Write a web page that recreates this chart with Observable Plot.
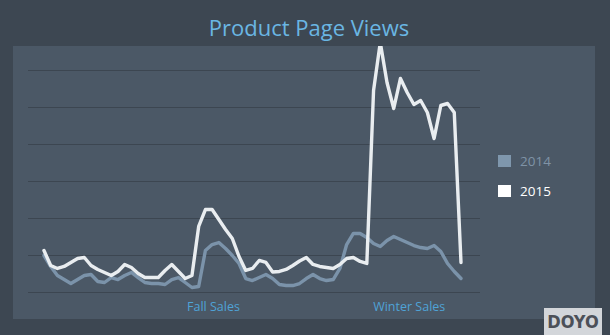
<!DOCTYPE html>
<html>
<head>
<meta charset="utf-8">
<script src="https://cdn.jsdelivr.net/npm/d3@7"></script>
<script src="https://cdn.jsdelivr.net/npm/@observablehq/plot@0.6"></script>
<style>
html,body{margin:0;padding:0;background:#3d4752;width:610px;height:335px;overflow:hidden;font-family:"Open Sans",sans-serif}
#title{position:absolute;left:0;width:618px;top:12px;text-align:center;color:#6ab6e3;font-size:22px;line-height:30px}
#panel{position:absolute;left:13px;top:46px;width:582px;height:273px;background:#4b5866}
#panel svg{position:absolute;left:0;top:0}
#legend{position:absolute;left:498px;top:146px}
.item{display:flex;align-items:center;height:30px;font-size:13.5px}
.sw{width:13px;height:12px;margin-right:9px}
#logo{position:absolute;left:544px;top:308px;width:58px;height:27px;background:#d3d6da;color:#4c5058;font:bold 18px "DejaVu Sans Condensed","DejaVu Sans",sans-serif;text-align:center;line-height:27px}
</style>
</head>
<body>
<div id="title">Product Page Views</div>
<div id="panel"></div>
<div id="legend"></div>
<div id="logo">DOYO</div>
<script>
// Series names and colours
const seriesNames = ["2014", "2015"];
const seriesColors = ["#7b93aa", "#e9edf0"];
const swatchColors = ["#7f97ad", "#ffffff"];
const legendTextColors = ["#7f93a6", "#ffffff"];

// Weekly product page views (arbitrary units)
const views2014 = [1000,703,459,351,243,351,459,487,297,270,405,351,459,541,405,270,243,243,216,351,405,270,135,162,1135,1297,1351,1189,1000,784,378,324,405,487,378,216,189,189,243,378,487,378,324,351,649,1297,1595,1595,1486,1324,1243,1405,1514,1432,1351,1270,1216,1189,1270,1108,784,568,378];
const views2015 = [1135,730,649,703,811,919,946,730,622,541,459,568,757,676,514,405,405,405,595,757,568,378,459,1784,2243,2243,1973,1703,1459,973,595,649,865,811,554,568,622,730,851,946,757,703,676,649,757,919,946,838,784,5460,6757,5676,4973,5784,5405,5081,5189,4865,4162,5054,5108,4865,811];

// Axis annotations
const yTicks = [0, 1000, 2000, 3000, 4000, 5000, 6000];
const xLabelPositions = [25.2, 54.3];
const xLabels = ["Fall Sales", "Winter Sales"];

const seriesValues = [views2014, views2015];
const rows = seriesNames.map((name, s) => seriesValues[s].map((v, i) => ({i, v, name})));
const labelMap = new Map(xLabelPositions.map((p, k) => [p, xLabels[k]]));

const chart = Plot.plot({
  width: 582,
  height: 273,
  marginLeft: 15,
  marginRight: 115,
  marginTop: 24,
  marginBottom: 27,
  x: {domain: [-2.3, 64.9], axis: null},
  y: {domain: [0, 6000], axis: null},
  style: {background: "transparent", fontFamily: "Open Sans, sans-serif"},
  marks: [
    Plot.gridY(yTicks, {stroke: "#3c4651", strokeOpacity: 1, strokeWidth: 1.2}),
    ...rows.map((r, s) => Plot.line(r, {x: "i", y: "v", stroke: seriesColors[s], strokeWidth: 3.4, strokeLinejoin: "round", strokeLinecap: "round"})),
    Plot.axisX({ticks: xLabelPositions, tickFormat: d => labelMap.get(d), tickSize: 0, tickPadding: 10, fill: "#4fa3d6", fontSize: 12.5})
  ]
});
document.getElementById("panel").appendChild(chart);

const legend = document.getElementById("legend");
seriesNames.forEach((name, s) => {
  const item = document.createElement("div");
  item.className = "item";
  const sw = document.createElement("div");
  sw.className = "sw";
  sw.style.background = swatchColors[s];
  const t = document.createElement("span");
  t.textContent = name;
  t.style.color = legendTextColors[s];
  item.appendChild(sw);
  item.appendChild(t);
  legend.appendChild(item);
});
</script>
</body>
</html>
